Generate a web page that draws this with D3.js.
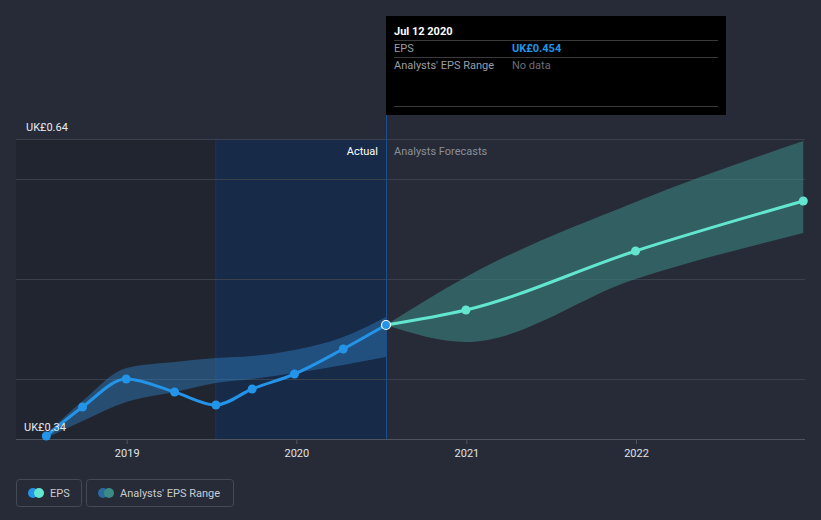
<!DOCTYPE html>
<html><head><meta charset="utf-8">
<script src="https://cdn.jsdelivr.net/npm/d3@7"></script>
<style>
html,body{margin:0;padding:0;background:#262b37;}
svg{display:block;font-family:Roboto,"Open Sans",sans-serif;}
</style></head>
<body><svg id="c" width="821" height="520"></svg>
<script>
// ---- data ----
const epsDates = ["2018-07-12","2018-09-28","2018-12-31","2019-04-14","2019-07-12","2019-09-28","2019-12-28","2020-04-11","2020-07-12"];
const epsValues = [0.343,0.372,0.400,0.387,0.374,0.390,0.405,0.430,0.454];
const rangeDates = ["2018-07-12","2018-09-28","2018-12-31","2019-04-14","2019-07-12","2019-09-28","2019-12-28","2020-04-11","2020-07-12"];
const rangeLow  = [0.341,0.358,0.377,0.387,0.396,0.400,0.406,0.414,0.422];
const rangeHigh = [0.345,0.378,0.411,0.417,0.421,0.423,0.429,0.442,0.462];
const fcDates = ["2020-07-12","2020-12-31","2021-12-31","2022-12-27"];
const fcValues = [0.454,0.469,0.528,0.578];
const fcLow  = [0.454,0.437,0.500,0.546];
const fcHigh = [0.454,0.502,0.577,0.638];
const yTicks = [0.34,0.40,0.50,0.60,0.64];
const yLabels = ["UK£0.34","UK£0.64"];
const xTicks = ["2019-01-01","2020-01-01","2021-01-01","2022-01-01"];
const xTickLabels = ["2019","2020","2021","2022"];
const nowDate = "2020-07-12";
const pastStart = "2019-07-12";

const p = d3.timeParse("%Y-%m-%d");
const svg = d3.select("#c");
const L = 16, R = 805, T = 139, B = 439;
const x = d3.scaleTime().domain([p("2019-01-01"), p("2022-01-01")]).range([126.7, 636]);
const y = d3.scaleLinear().domain([0.34, 0.64]).range([B, T]);

// regions
svg.append("rect").attr("x", L).attr("y", T).attr("width", x(p(pastStart)) - L).attr("height", B - T).attr("fill", "#21252f");
svg.append("rect").attr("x", x(p(pastStart))).attr("y", T).attr("width", x(p(nowDate)) - x(p(pastStart))).attr("height", B - T).attr("fill", "#172a48");
svg.append("line").attr("x1", x(p(pastStart))).attr("x2", x(p(pastStart))).attr("y1", T).attr("y2", B).attr("stroke", "#1d3660").attr("stroke-width", 1);

// grid
svg.append("g").selectAll("line").data(yTicks).join("line")
  .attr("x1", L).attr("x2", R).attr("y1", d => Math.round(y(d)) + 0.5).attr("y2", d => Math.round(y(d)) + 0.5)
  .attr("stroke", d => d === 0.34 ? "#4f5461" : "#3a404c").attr("stroke-width", 1);

// x axis
const xa = svg.append("g").attr("transform", `translate(0,${B})`)
  .call(d3.axisBottom(x).tickValues(xTicks.map(p)).tickFormat((d, i) => xTickLabels[i]).tickSize(5).tickPadding(5));
xa.select(".domain").remove();
xa.selectAll("line").attr("stroke", "#4f5461");
xa.selectAll("text").attr("fill", "#e0e2e6").attr("font-size", 11).attr("font-family", "Roboto, sans-serif");

// bands
const area = d3.area().curve(d3.curveMonotoneX).x(d => x(d.d)).y0(d => y(d.lo)).y1(d => y(d.hi));
const rangeData = rangeDates.map((d, i) => ({d: p(d), lo: rangeLow[i], hi: rangeHigh[i]}));
svg.append("path").datum(rangeData).attr("d", area).attr("fill", "#2f7ec4").attr("opacity", 0.45);
const fcBand = fcDates.map((d, i) => ({d: p(d), lo: fcLow[i], hi: fcHigh[i]}));
svg.append("path").datum(fcBand).attr("d", area).attr("fill", "#3c8a86").attr("opacity", 0.55);

// now line
svg.append("line").attr("x1", x(p(nowDate)) + 0.5).attr("x2", x(p(nowDate)) + 0.5).attr("y1", 16).attr("y2", B).attr("stroke", "#1e4f8e").attr("stroke-width", 1);

// lines
const line = d3.line().curve(d3.curveMonotoneX).x(d => x(d.d)).y(d => y(d.v));
const eps = epsDates.map((d, i) => ({d: p(d), v: epsValues[i]}));
const fc = fcDates.map((d, i) => ({d: p(d), v: fcValues[i]}));
svg.append("path").datum(eps).attr("d", line).attr("fill", "none").attr("stroke", "#2394e8").attr("stroke-width", 3);
svg.append("path").datum(fc).attr("d", line).attr("fill", "none").attr("stroke", "#62e6cf").attr("stroke-width", 3);
svg.append("g").selectAll("circle").data(eps.slice(0, -1)).join("circle")
  .attr("cx", d => x(d.d)).attr("cy", d => y(d.v)).attr("r", 4.5).attr("fill", "#2394e8");
svg.append("g").selectAll("circle").data(fc.slice(1)).join("circle")
  .attr("cx", d => x(d.d)).attr("cy", d => y(d.v)).attr("r", 4.5).attr("fill", "#62e6cf");
const last = eps[eps.length - 1];
svg.append("circle").attr("cx", x(last.d)).attr("cy", y(last.v)).attr("r", 4.5).attr("fill", "#2394e8").attr("stroke", "#ffffff").attr("stroke-width", 1.2);

// y labels
svg.append("text").attr("x", 26).attr("y", 131).attr("fill", "#e8eaee").attr("font-size", 11).text(yLabels[1]);
svg.append("text").attr("x", 24).attr("y", 431).attr("fill", "#e8eaee").attr("font-size", 11).text(yLabels[0]);

// region labels
svg.append("text").attr("x", 378).attr("y", 155).attr("text-anchor", "end").attr("fill", "#ffffff").attr("font-size", 11).text("Actual");
svg.append("text").attr("x", 394).attr("y", 155).attr("fill", "#8a8f99").attr("font-size", 11).text("Analysts Forecasts");

// tooltip
const tt = svg.append("g");
tt.append("rect").attr("x", 386).attr("y", 16).attr("width", 340).attr("height", 99).attr("fill", "#000000");
tt.append("text").attr("x", 394).attr("y", 35).attr("fill", "#ffffff").attr("font-size", 11).attr("font-weight", "bold").text("Jul 12 2020");
[40.5, 57.5, 106.5].forEach(yy => tt.append("line").attr("x1", 394).attr("x2", 718).attr("y1", yy).attr("y2", yy).attr("stroke", "#3a3a3a"));
tt.append("text").attr("x", 394).attr("y", 52).attr("fill", "#9a9ea6").attr("font-size", 11).text("EPS");
tt.append("text").attr("x", 512).attr("y", 52).attr("fill", "#2394e8").attr("font-size", 11).attr("font-weight", "bold").text("UK£0.454");
tt.append("text").attr("x", 394).attr("y", 69).attr("fill", "#9a9ea6").attr("font-size", 11).text("Analysts' EPS Range");
tt.append("text").attr("x", 512).attr("y", 69).attr("fill", "#6a6e76").attr("font-size", 11).text("No data");

// legend
const lg = svg.append("g");
lg.append("rect").attr("x", 16.5).attr("y", 479.5).attr("width", 65).attr("height", 27).attr("rx", 3).attr("fill", "none").attr("stroke", "#444a57");
lg.append("circle").attr("cx", 33).attr("cy", 493).attr("r", 5).attr("fill", "#2394e8");
lg.append("circle").attr("cx", 39).attr("cy", 493).attr("r", 5).attr("fill", "#62e6cf");
lg.append("text").attr("x", 50).attr("y", 497).attr("fill", "#c8cbd1").attr("font-size", 11).text("EPS");
lg.append("rect").attr("x", 86.5).attr("y", 479.5).attr("width", 147).attr("height", 27).attr("rx", 3).attr("fill", "none").attr("stroke", "#444a57");
lg.append("circle").attr("cx", 103).attr("cy", 493).attr("r", 5).attr("fill", "#2b6a9e");
lg.append("circle").attr("cx", 109).attr("cy", 493).attr("r", 5).attr("fill", "#3c8a86");
lg.append("text").attr("x", 120).attr("y", 497).attr("fill", "#c8cbd1").attr("font-size", 11).text("Analysts' EPS Range");
</script></body></html>
